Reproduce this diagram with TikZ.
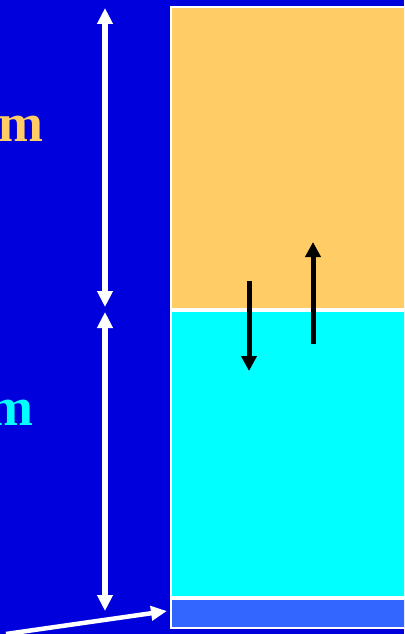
\documentclass[tikz,border=0pt]{standalone}
\usepackage{fontspec}
\setmainfont{Liberation Serif}
\usetikzlibrary{arrows.meta}
\definecolor{bgblue}{HTML}{0000DD}
\definecolor{layerorange}{HTML}{FFCC66}
\definecolor{layercyan}{HTML}{00FFFF}
\definecolor{layerbar}{HTML}{3366FF}
\tikzset{
  layer/.style={draw=white, line width=2.5pt},
  whitedim/.style={draw=white, line width=5.5pt, {Triangle[width=15pt,length=16pt]}-{Triangle[width=15pt,length=16pt]}},
  flux/.style={draw=black, line width=5pt, -{Triangle[width=15pt,length=15pt]}},
  pointer/.style={draw=white, line width=4.5pt, -{Triangle[width=14pt,length=16pt]}},
  lbl/.style={font=\bfseries\fontsize{54}{54}\selectfont, inner sep=0pt, anchor=base east}
}
\begin{document}
\begin{tikzpicture}[x=1pt,y=-1pt]
\useasboundingbox (0,0) rectangle (404,634);
\clip (0,0) rectangle (404,634);
\fill[bgblue] (0,0) rectangle (404,634);
% layers
\draw[layer, fill=layerorange] (171,7) rectangle (412,309);
\draw[layer, fill=layercyan] (171,311) rectangle (412,597);
\draw[layer, fill=layerbar] (171,599) rectangle (412,628);
\coordinate (bar) at (167,611);
\coordinate (tail) at (6,634);
% dimension arrows
\coordinate (d1t) at (105,8);
\coordinate (d1b) at (105,307);
\coordinate (d2t) at (105,312);
\coordinate (d2b) at (105,611);
\draw[whitedim] (d1t) -- (d1b);
\draw[whitedim] (d2t) -- (d2b);
% flux arrows
\coordinate (f1s) at (249,281);
\coordinate (f1e) at (249,371);
\coordinate (f2s) at (313,344);
\coordinate (f2e) at (313,242);
\draw[flux] (f1s) -- (f1e);
\draw[flux] (f2s) -- (f2e);
% pointer
\draw[pointer] (tail) -- (bar);
% labels
\node[lbl, text=layerorange] (lo) at (44,141) {m};
\node[lbl, text=layercyan] (lc) at (34,425) {m};
\end{tikzpicture}
\end{document}
